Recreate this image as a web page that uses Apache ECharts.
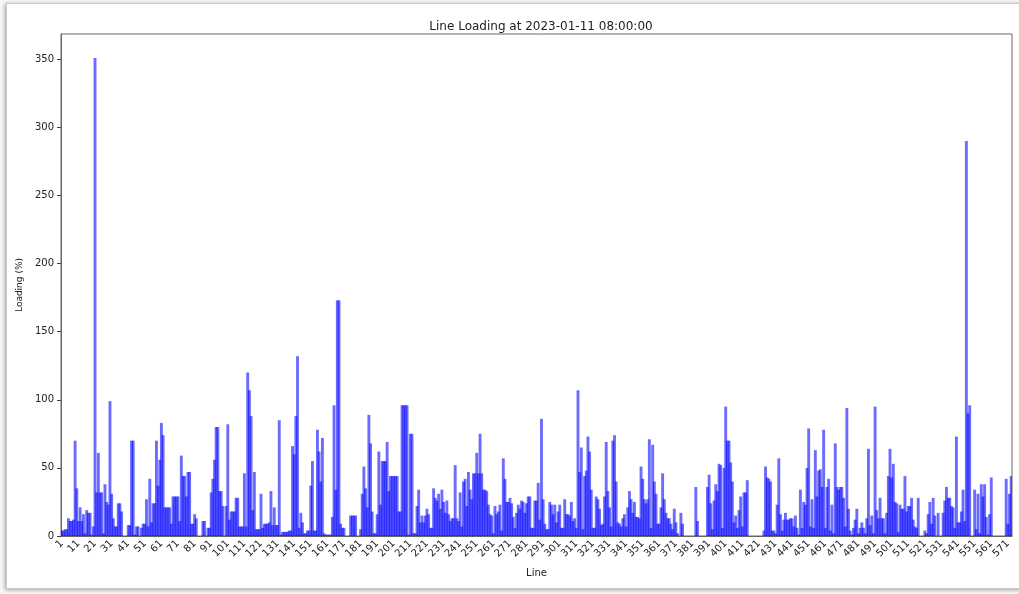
<!DOCTYPE html>
<html>
<head>
<meta charset="utf-8">
<script src="https://cdn.jsdelivr.net/npm/echarts@6/dist/echarts.min.js"></script>
<style>
  html, body { margin: 0; padding: 0; background: #f4f4f4; }
  #wrap { position: relative; width: 1019px; height: 594px; overflow: hidden; background: #f7f7f7; }
  #card { position: absolute; left: 6px; top: 3px; right: -12px; bottom: 5px; background: #fff;
          border: 1px solid #c8c8c8; box-shadow: -1px 1px 4px rgba(0,0,0,0.35); }
  #chart { position: absolute; left: 0; top: 0; width: 1019px; height: 594px; }
</style>
</head>
<body>
<div id="wrap">
  <div id="card"></div>
  <div id="chart"></div>
</div>
<script>
// Loading (%) per line, lines 1..573, in blocks of 100
const loading001 = [
  4, 4, 5, 5, 13, 11, 11, 12, 70, 35,
  11, 21, 11, 16, 2, 19, 17, 17, 1, 7,
  351, 32, 61, 32, 32, 2, 38, 25, 23, 99,
  31, 13, 7, 7, 24, 24, 18, 0, 0, 0,
  8, 8, 70, 70, 1, 7, 7, 0, 6, 9,
  9, 27, 7, 42, 10, 24, 24, 70, 37, 56,
  83, 74, 21, 21, 21, 21, 9, 29, 29, 29,
  29, 11, 59, 44, 44, 29, 47, 47, 9, 9,
  16, 13, 0, 0, 0, 11, 11, 0, 6, 6,
  32, 42, 56, 80, 80, 33, 33, 22, 0, 22
];
const loading101 = [
  82, 12, 18, 18, 18, 28, 28, 7, 7, 7,
  46, 7, 120, 107, 88, 19, 47, 5, 5, 5,
  31, 6, 9, 9, 9, 10, 33, 8, 21, 8,
  8, 85, 1, 3, 3, 3, 3, 4, 4, 66,
  60, 88, 132, 6, 17, 10, 2, 2, 4, 4,
  37, 55, 4, 4, 78, 62, 40, 72, 2, 1,
  1, 1, 1, 14, 96, 34, 173, 173, 9, 6,
  6, 0, 0, 0, 15, 15, 15, 15, 0, 0,
  5, 31, 51, 35, 21, 89, 68, 18, 2, 2,
  16, 62, 23, 55, 55, 55, 69, 33, 44, 44
];
const loading201 = [
  44, 44, 44, 18, 18, 96, 96, 96, 96, 1,
  75, 75, 2, 2, 22, 34, 10, 15, 10, 15,
  20, 16, 6, 6, 35, 28, 26, 31, 20, 34,
  25, 17, 26, 16, 11, 13, 13, 52, 13, 11,
  32, 7, 40, 42, 22, 47, 34, 27, 46, 46,
  61, 46, 75, 46, 34, 34, 33, 23, 16, 15,
  2, 22, 16, 18, 23, 4, 57, 42, 25, 25,
  28, 24, 14, 6, 17, 23, 20, 26, 25, 17,
  24, 29, 29, 6, 6, 26, 26, 39, 12, 86,
  27, 9, 5, 5, 25, 23, 16, 23, 10, 18
];
const loading301 = [
  23, 6, 6, 27, 16, 16, 15, 25, 11, 13,
  6, 107, 47, 65, 5, 44, 48, 73, 62, 34,
  6, 6, 29, 27, 20, 8, 9, 29, 69, 33,
  21, 7, 70, 74, 40, 10, 9, 7, 13, 16,
  7, 21, 33, 27, 17, 25, 14, 14, 13, 51,
  42, 27, 24, 27, 71, 6, 67, 40, 31, 9,
  9, 21, 46, 27, 17, 13, 13, 9, 5, 20,
  10, 2, 0, 17, 9, 0, 0, 0, 0, 0,
  0, 0, 36, 11, 0, 0, 0, 0, 0, 36,
  45, 24, 5, 26, 38, 33, 53, 52, 6, 50
];
const loading401 = [
  95, 70, 70, 54, 40, 10, 15, 6, 19, 29,
  7, 32, 32, 41, 0, 0, 0, 0, 0, 0,
  0, 0, 0, 4, 51, 43, 42, 40, 4, 4,
  2, 23, 57, 16, 4, 12, 17, 12, 12, 13,
  13, 7, 15, 6, 1, 34, 6, 25, 23, 50,
  79, 7, 27, 6, 63, 29, 48, 49, 36, 78,
  6, 36, 42, 4, 23, 2, 68, 36, 34, 36,
  36, 28, 7, 94, 20, 4, 1, 6, 12, 20,
  2, 6, 10, 6, 2, 13, 64, 8, 15, 2,
  95, 19, 13, 28, 13, 13, 2, 17, 44, 64
];
const loading501 = [
  43, 53, 25, 24, 3, 23, 20, 20, 44, 18,
  22, 22, 28, 12, 7, 6, 28, 0, 0, 0,
  4, 2, 16, 25, 9, 28, 15, 0, 17, 0,
  0, 17, 26, 36, 28, 28, 22, 21, 6, 73,
  10, 10, 18, 34, 11, 290, 90, 96, 0, 0,
  34, 5, 31, 2, 38, 29, 38, 14, 1, 16,
  43, 0, 0, 0, 0, 0, 0, 0, 0, 42,
  9, 31, 44
];
const loading = [].concat(loading001, loading101, loading201, loading301, loading401, loading501);

// Line numbers along the x axis
const lineIds = loading.map((_, i) => String(i + 1));

// Y axis ticks
const yTicks = [0, 50, 100, 150, 200, 250, 300, 350];
const yMax = 368.55;

const titleText = 'Line Loading at 2023-01-11 08:00:00';
const xName = 'Line';
const yName = 'Loading (%)';

const chart = echarts.init(document.getElementById('chart'), null, { renderer: 'canvas' });
const font = 'DejaVu Sans';
const ink = '#222';

chart.setOption({
  backgroundColor: 'transparent',
  animation: false,
  title: {
    text: titleText,
    left: 536, top: 16, textAlign: 'center',
    textStyle: { fontFamily: font, fontSize: 12, fontWeight: 'normal', color: '#222' }
  },
  grid: {
    left: 61, right: 7, top: 34, bottom: 58,
    show: true, borderColor: '#666', borderWidth: 1, backgroundColor: 'transparent'
  },
  xAxis: {
    type: 'category',
    data: lineIds,
    name: xName,
    nameLocation: 'middle',
    nameGap: 32,
    nameTextStyle: { fontFamily: font, fontSize: 10, color: ink },
    axisLine: { lineStyle: { color: '#666', width: 1 } },
    axisTick: { interval: 9, alignWithLabel: true, length: 4, lineStyle: { color: '#444' } },
    axisLabel: {
      interval: 9, rotate: 45, margin: 6,
      fontFamily: font, fontSize: 10, color: ink
    },
    splitLine: { show: false }
  },
  yAxis: {
    type: 'value',
    min: 0, max: yMax,
    name: yName,
    nameLocation: 'middle',
    nameGap: 26,
    nameRotate: 90,
    nameTextStyle: { fontFamily: font, fontSize: 9, color: ink },
    axisLine: { show: true, lineStyle: { color: '#666', width: 1 } },
    axisTick: { show: true, length: 4, customValues: yTicks, lineStyle: { color: '#444' } },
    axisLabel: { customValues: yTicks, margin: 7, fontFamily: font, fontSize: 10, color: ink },
    splitLine: { show: false }
  },
  series: [{
    type: 'bar',
    data: loading,
    barWidth: 2.9,
    itemStyle: { color: 'rgba(0, 0, 255, 0.58)' },
    emphasis: { disabled: true }
  }]
});
</script>
</body>
</html>
